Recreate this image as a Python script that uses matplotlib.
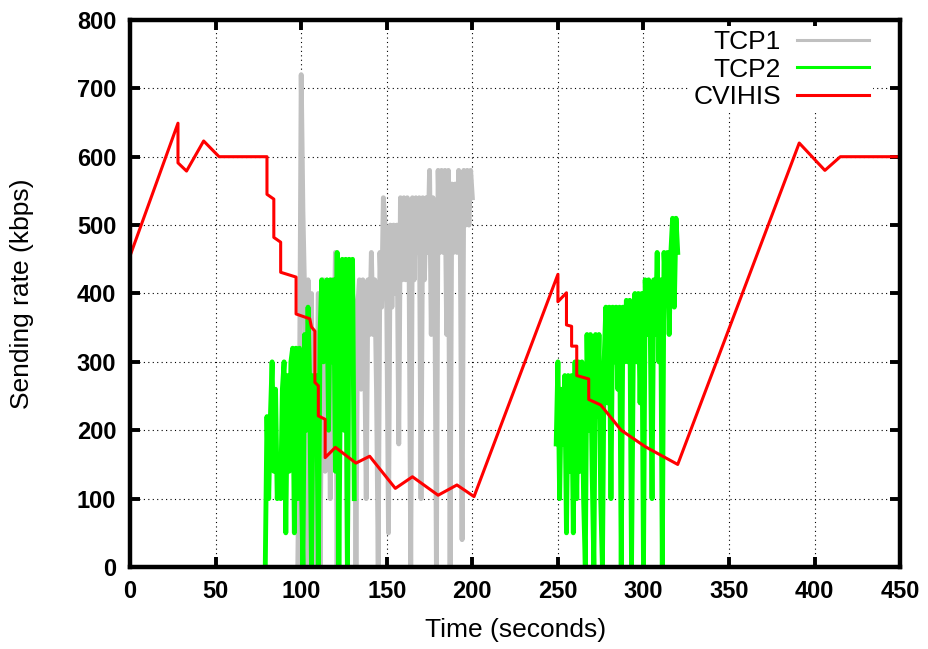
import numpy as np
import matplotlib
matplotlib.use("Agg")
import matplotlib.pyplot as plt

plt.rcParams['font.family'] = ['Liberation Sans', 'DejaVu Sans']

# TCP1 sending rate, one sample per second starting at t = 98 s
tcp1_start = 98
tcp1_rate = [0, 240, 720, 520, 400, 0, 420, 300, 400, 0, 340, 200, 400, 0, 300, 420,
             140, 400, 340, 100, 420, 300, 460, 0, 420, 200, 380, 300, 400, 0, 420, 300,
             400, 380, 0, 380, 420, 260, 420, 340, 100, 420, 340, 460, 340, 420, 260, 0,
             460, 380, 540, 500, 380, 50, 500, 380, 500, 400, 500, 180, 540, 420, 540, 420,
             540, 460, 0, 540, 420, 540, 460, 540, 100, 540, 420, 540, 460, 580, 340, 540,
             460, 0, 580, 460, 580, 460, 580, 340, 580, 0, 560, 460, 560, 460, 580, 460,
             40, 580, 500, 580, 500, 580, 540]

# TCP2 sending rate, two bursts sampled every second
tcp2a_start = 79
tcp2a_rate = [0, 220, 100, 220, 300, 140, 260, 100, 140, 100, 260, 300, 50, 280, 140, 300,
              320, 50, 320, 100, 320, 140, 0, 340, 200, 380, 260, 0, 280, 200, 280, 0,
              340, 420, 300, 340, 420, 200, 420, 300, 420, 140, 460, 0, 300, 450, 200, 450,
              0, 450, 300, 450, 100]
tcp2b_start = 249
tcp2b_rate = [180, 300, 100, 260, 180, 280, 50, 280, 140, 280, 50, 300, 100, 300, 140, 300,
              100, 0, 340, 200, 340, 140, 0, 340, 220, 340, 100, 0, 300, 380, 240, 380,
              100, 380, 300, 380, 260, 380, 0, 380, 300, 390, 300, 390, 0, 300, 400, 300,
              400, 240, 400, 0, 420, 340, 420, 340, 100, 420, 340, 460, 300, 420, 0, 460,
              400, 460, 340, 460, 510, 380, 510, 460]

# CVIHIS sending rate (breakpoints)
cvihis_t = [0, 28, 28, 33, 43, 52, 80, 80, 84, 84, 88, 88, 97, 97, 105, 106, 108, 108,
            110, 110, 114, 114, 120, 132, 140, 155, 165, 180, 191, 201, 250, 250, 255,
            255, 258, 258, 261, 261, 268, 268, 275, 287, 301, 320, 391, 406, 415, 450]
cvihis_rate = [455, 649, 591, 579, 623, 600, 600, 545, 538, 482, 475, 431, 424, 370, 363,
               351, 345, 270, 265, 221, 216, 160, 175, 152, 162, 115, 132, 105, 120, 103,
               428, 388, 401, 354, 352, 323, 323, 280, 275, 245, 237, 200, 176, 150, 620,
               580, 600, 600]

fig = plt.figure(figsize=(9.29, 6.49), dpi=100)
ax = fig.add_axes([0.140, 0.1263, 0.829, 0.843])

t1 = tcp1_start + np.arange(len(tcp1_rate))
t2a = tcp2a_start + np.arange(len(tcp2a_rate))
t2b = tcp2b_start + np.arange(len(tcp2b_rate))

ax.plot(t1, tcp1_rate, color='#c0c0c0', lw=3.5, label='TCP1')
ax.plot(t2a, tcp2a_rate, color='#00ff00', lw=3.5, label='TCP2')
ax.plot(t2b, tcp2b_rate, color='#00ff00', lw=3.5)
ax.plot(cvihis_t, cvihis_rate, color='#ff0000', lw=2.2, label='CVIHIS')

ax.set_xlim(0, 450)
ax.set_ylim(0, 800)
ax.set_xticks(np.arange(0, 451, 50))
ax.set_yticks(np.arange(0, 801, 100))
ax.grid(True, color='black', linestyle=(0, (1, 3)), linewidth=0.8)
ax.set_axisbelow(True)

for s in ax.spines.values():
    s.set_linewidth(3.2)
ax.tick_params(direction='in', length=7, width=2.8, top=True, right=True,
               labelsize=17)
ax.tick_params(axis='y', pad=10)
ax.tick_params(axis='x', pad=9)
for lab in ax.get_xticklabels() + ax.get_yticklabels():
    lab.set_fontweight('bold')

ax.set_xlabel('Time (seconds)', fontsize=19)
ax.set_ylabel('Sending rate (kbps)', fontsize=19)
ax.xaxis.set_label_coords(0.5, -0.094)
ax.yaxis.set_label_coords(-0.125, 0.5)

# legend: labels right-aligned against their line samples, on a plain white box
leg = ax.legend(loc='upper right', bbox_to_anchor=(0.965, 0.988), frameon=True,
                fancybox=False, framealpha=1, facecolor='white', edgecolor='none',
                markerfirst=False, fontsize=19, handlelength=2.75, handletextpad=0.6,
                labelspacing=0.12, borderpad=0.15, borderaxespad=0)
for col in leg._legend_handle_box.get_children():
    col.align = 'right'
for line in leg.get_lines():
    line.set_linewidth(2.2)

fig.savefig('out.png', dpi=100)
